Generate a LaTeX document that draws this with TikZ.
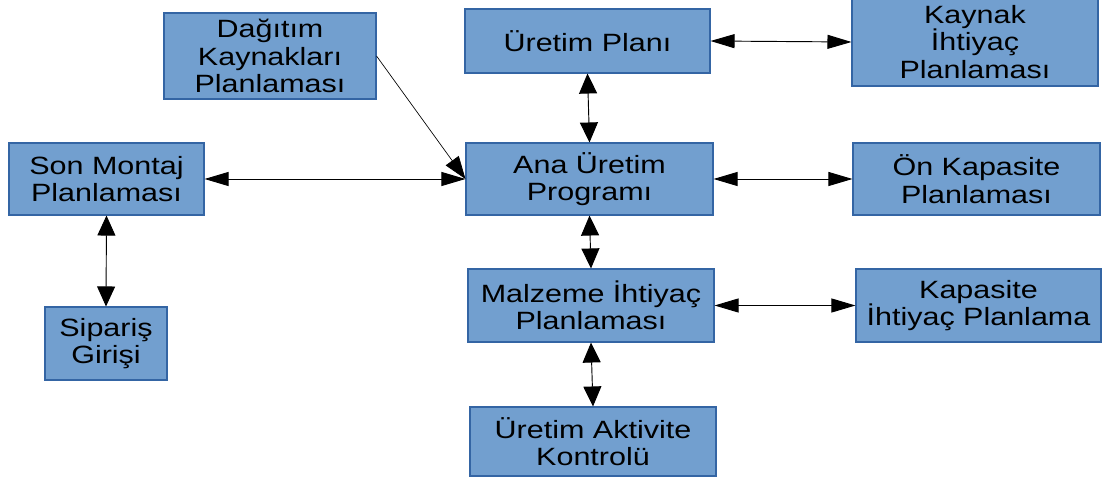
\documentclass[tikz,border=0pt]{standalone}
\usepackage{fontspec}
\setmainfont{Liberation Sans}[FakeStretch=1.22]
\usetikzlibrary{arrows.meta}
\definecolor{boxfill}{HTML}{729FCF}
\definecolor{boxline}{HTML}{3465A4}
\begin{document}
\begin{tikzpicture}[x=0.75pt,y=-0.75pt,
  box/.style={draw=boxline, fill=boxfill, line width=0.8pt, align=center, inner sep=0pt,
    font=\fontsize{18.75}{20.6}\selectfont},
  sz/.style 2 args={minimum width=#1*0.75pt, minimum height=#2*0.75pt},
  conn/.style={line width=0.7pt, draw=black},
  harr/.style={conn, {Triangle[length=18pt,width=10.5pt]}-{Triangle[length=18pt,width=10.5pt]}},
  varr/.style={conn, {Triangle[length=15pt,width=13.5pt]}-{Triangle[length=15pt,width=13.5pt]}},
  darr/.style={line width=0.5pt, draw=black, -{Triangle[length=17pt,width=12pt]}}
]
\useasboundingbox (0,0) rectangle (1103,477);

\node[box, sz={212}{86}] (dag) at (270,56) {Dağıtım\\Kaynakları\\Planlaması};
\node[box, sz={195}{72}] (son) at (106.5,179) {Son Montaj\\Planlaması};
\node[box, sz={122}{73}] (sip) at (106,343.5) {Sipariş\\Girişi};
\node[box, sz={245}{64}] (up) at (587.5,41) {Üretim Planı};
\node[box, sz={246}{88}] (kay) at (975,42) {Kaynak\\İhtiyaç\\Planlaması};
\node[box, sz={247}{72}] (ana) at (589.5,179) {Ana Üretim\\Programı};
\node[box, sz={247}{72}] (onk) at (976.5,179) {Ön Kapasite\\Planlaması};
\node[box, sz={246}{73}] (mal) at (591,305.5) {Malzeme İhtiyaç\\Planlaması};
\node[box, sz={245}{73}] (kap) at (978.5,305.5) {Kapasite\\İhtiyaç Planlama};
\node[box, sz={246}{69}] (ura) at (593,441.5) {Üretim Aktivite\\Kontrolü};

\draw[darr] (dag.east) -- (ana.west);
\draw[harr] (son.east) -- (ana.west);
\draw[varr] (son.south) -- (sip.north);
\draw[harr] (up.east) -- (kay.west);
\draw[varr] (up.south) -- (ana.north);
\draw[harr] (ana.east) -- (onk.west);
\draw[varr] (ana.south) -- (mal.north);
\draw[harr] (mal.east) -- (kap.west);
\draw[varr] (mal.south) -- (ura.north);
\end{tikzpicture}
\end{document}
